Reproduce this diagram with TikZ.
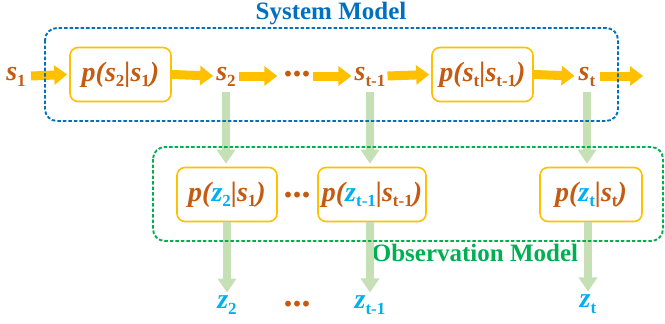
\documentclass[tikz,border=0pt]{standalone}
\usepackage{fontspec}
\setmainfont{Liberation Serif}
\usetikzlibrary{arrows.meta}
\definecolor{sbrown}{HTML}{C55A11}
\definecolor{zcyan}{HTML}{00B0F0}
\definecolor{yarr}{HTML}{FFC000}
\definecolor{garr}{HTML}{C5E0B4}
\definecolor{sysblue}{HTML}{0070C0}
\definecolor{obsgreen}{HTML}{00B050}
\newcommand{\mysub}[1]{\raisebox{-0.2em}{\fontsize{17}{17}\selectfont\bfseries\upshape #1}}
\newcommand{\sv}[1]{\textcolor{sbrown}{s\mysub{#1}}}
\newcommand{\zv}[1]{\textcolor{zcyan}{z\mysub{#1}}}
\begin{document}
\begin{tikzpicture}[x=1pt,y=-1pt,
  every node/.style={font=\fontsize{28}{32}\selectfont\bfseries\itshape, text=sbrown},
  lab/.style={inner sep=0pt},
  dots/.style={inner sep=0pt, font=\fontsize{36}{36}\selectfont\bfseries\upshape},
  pbox/.style={draw=yarr, line width=1.6pt, rounded corners=8pt, fill=white,
    minimum height=54pt, inner sep=0pt},
  yarrow/.style={draw=yarr, line width=9pt, -{Triangle[width=19pt,length=13pt]}},
  garrow/.style={draw=garr, line width=8pt, -{Triangle[width=18pt,length=14pt]}},
  dbox/.style={line width=1.9pt, dash pattern=on 3.5pt off 2pt, rounded corners=12pt},
  ttl/.style={font=\fontsize{25}{30}\selectfont\bfseries, inner sep=0pt}
]
\useasboundingbox (0,0) rectangle (665,324);
% top row
\node[lab] (s1) at (16,77) {\sv{1}};
\node[pbox, minimum width=101pt] (b1) at (120.5,74.5) {p(\sv{2}|\sv{1})};
\node[lab] (s2) at (226,77) {\sv{2}};
\node[dots] (d1) at (297,74) {...};
\node[lab] (s3) at (370,77) {\sv{t-1}};
\node[pbox, minimum width=101pt] (b2) at (482.5,74.5) {p(\sv{t}|\sv{t-1})};
\node[lab] (s4) at (587,77) {\sv{t}};
\coordinate (end) at (643,76);
% second row
\node[pbox, minimum width=100pt] (b3) at (227,194.5) {p(\zv{2}|\sv{1})};
\node[dots] (d2) at (297,195) {...};
\node[pbox, minimum width=108pt] (b4) at (372,194.5) {p(\zv{t-1}|\sv{t-1})};
\node[pbox, minimum width=102pt] (b5) at (591,194.5) {p(\zv{t}|\sv{t})};
% bottom row
\node[lab] (z2) at (227,305) {\zv{2}};
\node[dots] (d3) at (297,304) {...};
\node[lab] (z3) at (370,305) {\zv{t-1}};
\node[lab] (z4) at (588,304) {\zv{t}};
% titles
\node[ttl, text=sysblue] (sys) at (331,14) {System Model};
\node[ttl, text=obsgreen] (obs) at (475,253) {Observation Model};
% yellow arrows
\draw[yarrow] ([xshift=5pt]s1.east |- 0,76) -- ([xshift=-2pt]b1.west);
\draw[yarrow] (b1.east) -- ([xshift=-3pt]s2.west |- 0,76);
\draw[yarrow] ([xshift=3pt]s2.east |- 0,76) -- ([xshift=-6pt]d1.west |- 0,76);
\draw[yarrow] ([xshift=2pt]d1.east |- 0,76) -- ([xshift=-3pt]s3.west |- 0,76);
\draw[yarrow] ([xshift=2pt]s3.east |- 0,76) -- ([xshift=-2pt]b2.west);
\draw[yarrow] (b2.east) -- ([xshift=-4pt]s4.west |- 0,76);
\draw[yarrow] ([xshift=5pt]s4.east |- 0,76) -- (end);
% green arrows
\draw[garrow] ([yshift=-5pt]s2.south) -- ([yshift=3pt]s2 |- b3.north);
\draw[garrow] ([yshift=-5pt]s3.south) -- ([yshift=3pt]s3 |- b4.north);
\draw[garrow] ([yshift=-5pt]s4.south) -- ([yshift=3pt]s4 |- b5.north);
\draw[garrow] (b3.south -| z2) -- ([yshift=3pt]z2.north);
\draw[garrow] (b4.south -| z3) -- ([yshift=3pt]z3.north);
\draw[garrow] (b5.south -| z4) -- ([yshift=3pt]z4.north);
% dashed model boxes
\draw[dbox, draw=sysblue] (45,28) rectangle (618,121);
\draw[dbox, draw=obsgreen] (153,147) rectangle (663,241);
\end{tikzpicture}
\end{document}
